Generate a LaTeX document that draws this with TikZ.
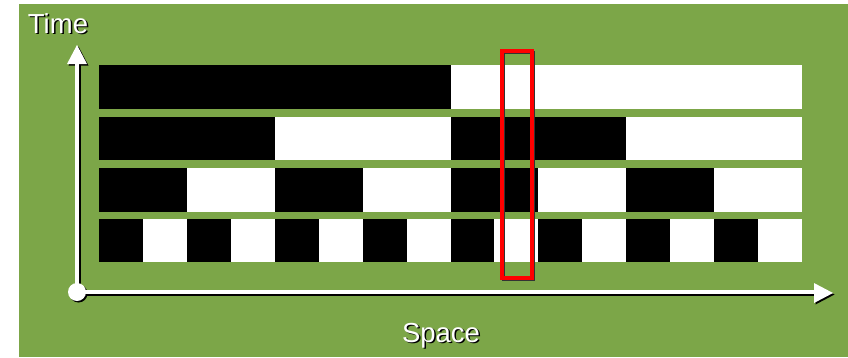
\documentclass[tikz,border=0pt]{standalone}
\usepackage{fontspec}
\setmainfont{Liberation Sans}
\usetikzlibrary{arrows.meta}
\definecolor{bggreen}{RGB}{124,166,72}
\definecolor{rectred}{RGB}{255,0,0}
\begin{document}
\begin{tikzpicture}[x=1pt,y=-1pt,
  axis/.style={line width=4pt,white},
  axshadow/.style={line width=4pt,black},
  lbl/.style={font=\fontsize{27.5}{27.5}\selectfont,text=white,inner sep=0pt,anchor=base},
  lblsh/.style={font=\fontsize{27.5}{27.5}\selectfont,text=black,inner sep=0pt,anchor=base}]
\useasboundingbox (0,0) rectangle (848,357);
\fill[white] (0,0) rectangle (848,357);
\fill[bggreen] (19,4) rectangle (848,357);
% rows: tops and bottoms
\def\cw{43.9375}
\foreach \top/\bot/\per in {65/109/8,117/160/4,168/212/2,219/262/1}{
  \foreach \i in {0,...,15}{
    \pgfmathtruncatemacro{\g}{mod(floor(\i/\per),2)}
    \pgfmathsetmacro{\xa}{99+\i*\cw}
    \pgfmathsetmacro{\xb}{99+(\i+1)*\cw}
    \ifnum\g=0
      \fill[black] (\xa,\top) rectangle (\xb,\bot);
    \else
      \fill[white] (\xa,\top) rectangle (\xb,\bot);
    \fi
  }
}
% red rectangle with shadow
\draw[line width=3.2pt,black!80] (503.5,52.5) rectangle (533.5,279.5);
\draw[line width=3.2pt,rectred] (502,51) rectangle (532,278);
% axes shadows
\coordinate (o) at (77,292);
\draw[axshadow] (78.5,293.5) -- (78.5,64);
\fill[black] (78.5,46.5) -- (88.5,65.5) -- (68.5,65.5) -- cycle;
\draw[axshadow] (78.5,293.5) -- (815,293.5);
\fill[black] (834.5,294.5) -- (815.5,284.5) -- (815.5,304.5) -- cycle;
\fill[black] (78.5,293.5) circle (9);
% axes
\draw[axis] (o) -- (77,63);
\fill[white] (77,45) -- (87,64) -- (67,64) -- cycle;
\draw[axis] (o) -- (814,292);
\fill[white] (833,293) -- (814,283) -- (814,303) -- cycle;
\fill[white] (o) circle (9);
% labels
\node[lblsh] (timesh) at (59.5,34.5) {Time};
\node[lbl] (time) at (58,33) {Time};
\node[lblsh] (spacesh) at (442.5,343.5) {Space};
\node[lbl] (space) at (441,342) {Space};
\end{tikzpicture}
\end{document}
